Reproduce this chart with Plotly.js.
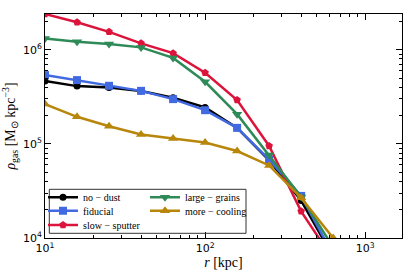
<!DOCTYPE html>
<html>
<head>
<meta charset="utf-8">
<script src="https://cdn.plot.ly/plotly-3.0.1.min.js"></script>
<style>html,body{margin:0;padding:0;background:#fff;}#chart{width:407px;height:271px;}</style>
</head>
<body>
<div id="chart"></div>
<script>
// radii [kpc]
const radius = [10, 15.85, 25.12, 39.81, 63.10, 100, 158.5, 251.2, 398.1, 631.0];
// gas density [Msun kpc^-3]
const noDust      = [4.65e5, 4.11e5, 3.98e5, 3.64e5, 3.09e5, 2.44e5, 1.48e5, 6.7e4, 2.5e4, 6.3e3];
const fiducial    = [5.38e5, 4.76e5, 4.14e5, 3.66e5, 2.99e5, 2.28e5, 1.48e5, 6.8e4, 2.8e4, 6.6e3];
const slowSputter = [2.40e6, 1.96e6, 1.55e6, 1.17e6, 9.2e5, 5.7e5, 2.92e5, 9.5e4, 1.92e4, 5.9e3];
const largeGrains = [1.32e6, 1.22e6, 1.15e6, 1.06e6, 8.2e5, 4.57e5, 2.07e5, 7.6e4, 2.73e4, 8.0e3];
const moreCooling = [2.65e5, 1.94e5, 1.54e5, 1.26e5, 1.14e5, 1.035e5, 8.4e4, 5.9e4, 2.67e4, 1.0e4];

const seriesNames = ['no − dust', 'fiducial', 'slow − sputter', 'large − grains', 'more − cooling'];
const xTickVals = [10, 100, 1000];
const xTickText = ['10<sup>1</sup>', '10<sup>2</sup>', '10<sup>3</sup>'];
const yTickVals = [1e4, 1e5, 1e6];
const yTickText = ['10<sup>4</sup>', '10<sup>5</sup>', '10<sup>6</sup>'];

const series = [
  {y: noDust, color: '#000000', symbol: 'circle', size: 7, legend: 'legend'},
  {y: fiducial, color: '#4169E1', symbol: 'square', size: 8, legend: 'legend2'},
  {y: slowSputter, color: '#DC143C', symbol: 'pentagon', size: 8, legend: 'legend3'},
  {y: largeGrains, color: '#2E8B57', symbol: 'triangle-down', size: 9, legend: 'legend'},
  {y: moreCooling, color: '#B8860B', symbol: 'triangle-up', size: 9, legend: 'legend2'}
];

const traces = series.map((s, i) => ({
  type: 'scatter', mode: 'lines+markers',
  x: radius, y: s.y, name: seriesNames[i],
  line: {color: s.color, width: 2.5},
  marker: {color: s.color, symbol: s.symbol, size: s.size, line: {width: 0}},
  legend: s.legend, cliponaxis: true
}));

const W = 407, H = 271, M = {l: 45, r: 5, t: 14, b: 33};
const pw = W - M.l - M.r, ph = H - M.t - M.b;
const px2x = p => (p - M.l) / pw;
const py2y = p => (H - M.b - p) / ph;

const legFont = {family: 'Liberation Serif', size: 10, color: '#000'};
const legCommon = {
  orientation: 'h', xanchor: 'left', yanchor: 'middle',
  bgcolor: 'rgba(0,0,0,0)', borderwidth: 0, font: legFont,
  entrywidth: 57, entrywidthmode: 'pixels', itemwidth: 30
};

const tickFont = {family: 'DejaVu Sans', size: 11, color: '#000'};

const layout = {
  width: W, height: H, margin: M,
  paper_bgcolor: '#fff', plot_bgcolor: '#fff',
  showlegend: true,
  xaxis: {
    type: 'log', range: [1, 3.23], automargin: false,
    tickvals: xTickVals, ticktext: xTickText,
    ticks: 'inside', ticklen: 6, tickwidth: 1, tickcolor: '#000',
    minor: {ticks: 'inside', ticklen: 3, tickwidth: 1, tickcolor: '#000', dtick: 'D1', showgrid: false},
    showline: true, linecolor: '#000', linewidth: 1, mirror: 'allticks',
    showgrid: false, zeroline: false,
    tickfont: tickFont,
    title: {text: '<i>r</i> [kpc]', font: {family: 'Liberation Serif', size: 14, color: '#000'}, standoff: 0}
  },
  yaxis: {
    type: 'log', range: [4, 6.38], automargin: false,
    tickvals: yTickVals, ticktext: yTickText,
    ticks: 'inside', ticklen: 6, tickwidth: 1, tickcolor: '#000',
    minor: {ticks: 'inside', ticklen: 3, tickwidth: 1, tickcolor: '#000', dtick: 'D1', showgrid: false},
    showline: true, linecolor: '#000', linewidth: 1, mirror: 'allticks',
    showgrid: false, zeroline: false,
    tickfont: tickFont,
    title: {text: '<i>ρ</i><sub>gas</sub> [M<sub>⊙</sub> kpc<sup>−3</sup>]', font: {family: 'Liberation Serif', size: 14, color: '#000'}, standoff: 5}
  },
  shapes: [{
    type: 'rect', xref: 'paper', yref: 'paper', layer: 'above',
    x0: px2x(49.3), x1: px2x(246), y0: py2y(233.3), y1: py2y(189.3),
    line: {color: '#333', width: 1}, fillcolor: 'rgba(255,255,255,0)'
  }],
  legend: Object.assign({}, legCommon, {x: px2x(43), y: py2y(197.3)}),
  legend2: Object.assign({}, legCommon, {x: px2x(43), y: py2y(210.7)}),
  legend3: Object.assign({}, legCommon, {x: px2x(43), y: py2y(225)})
};

Plotly.newPlot('chart', traces, layout, {displayModeBar: false, staticPlot: true});
</script>
</body>
</html>
